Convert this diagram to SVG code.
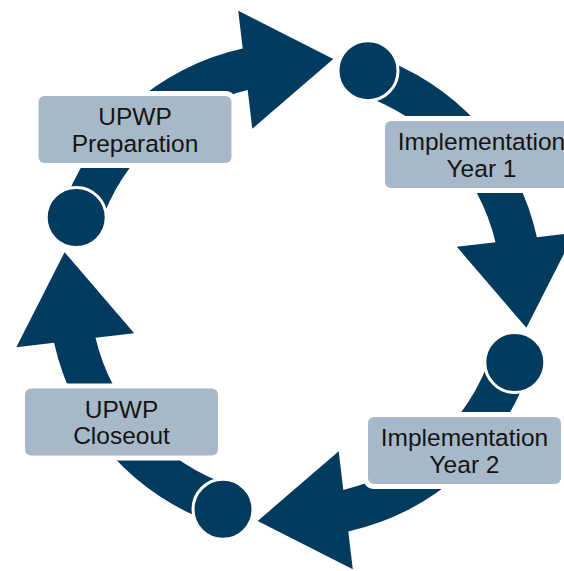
<svg xmlns="http://www.w3.org/2000/svg" width="564" height="571" viewBox="0 0 564 571">
  <defs>
    <style>
      .arrow { fill: #023B5E; }
      .dot { fill: #023B5E; stroke: #FFFFFF; stroke-width: 3; }
      .box { fill: #A7B9C8; stroke: #FFFFFF; stroke-width: 10; paint-order: stroke fill; }
      .lbl { font-family: "Liberation Sans", Arial, sans-serif; font-size: 24.5px; fill: #141414; text-anchor: middle; }
    </style>
    <path id="seg" d="M -234.5 -77.6 A 247 247 0 0 1 -52.8 -241.4 L -57.3 -279.2 L 37.8 -230.9 L -43.2 -161.3 L -47.8 -200 A 206 206 0 0 0 -195.6 -64.7 Z"/>
  </defs>
  <rect width="564" height="571" fill="#FFFFFF"/>
  <g id="connectors" transform="translate(295.5 290)">
    <use href="#seg" class="arrow"/>
    <use href="#seg" class="arrow" transform="rotate(90)"/>
    <use href="#seg" class="arrow" transform="rotate(180)"/>
    <use href="#seg" class="arrow" transform="rotate(270)"/>
  </g>
  <g id="points" transform="translate(295.5 290)">
    <circle class="dot" cx="72.5" cy="-219.3" r="30"/>
    <circle class="dot" cx="72.5" cy="-219.3" r="30" transform="rotate(90)"/>
    <circle class="dot" cx="72.5" cy="-219.3" r="30" transform="rotate(180)"/>
    <circle class="dot" cx="72.5" cy="-219.3" r="30" transform="rotate(270)"/>
  </g>
  <g id="node-preparation">
    <rect class="box" x="38.5" y="96" width="193" height="67" rx="6"/>
    <text class="lbl" x="135" y="125">UPWP</text>
    <text class="lbl" x="135" y="151.7">Preparation</text>
  </g>
  <g id="node-year1">
    <rect class="box" x="385" y="121" width="193" height="67" rx="6"/>
    <text class="lbl" x="481.5" y="150">Implementation</text>
    <text class="lbl" x="481.5" y="176.7">Year 1</text>
  </g>
  <g id="node-year2">
    <rect class="box" x="368" y="417" width="193" height="67" rx="6"/>
    <text class="lbl" x="464.5" y="446">Implementation</text>
    <text class="lbl" x="464.5" y="472.7">Year 2</text>
  </g>
  <g id="node-closeout">
    <rect class="box" x="25" y="388.5" width="193" height="67" rx="6"/>
    <text class="lbl" x="121.5" y="417.5">UPWP</text>
    <text class="lbl" x="121.5" y="444.2">Closeout</text>
  </g>
</svg>
